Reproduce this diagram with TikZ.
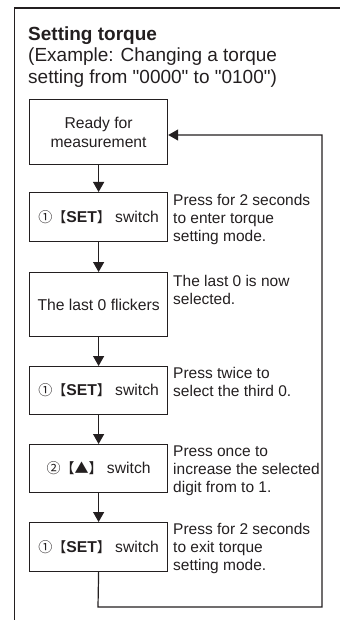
\documentclass[tikz,border=0pt]{standalone}
\usepackage{fontspec}
\setmainfont{Liberation Sans}[Ligatures=TeXOff]
\newfontfamily\cjk{Noto Sans CJK SC}
\newcommand\cjsym[1]{{\fontsize{14}{14}\cjk #1}}
\usetikzlibrary{arrows.meta}
\definecolor{ink}{HTML}{231F20}
\begin{document}
\begin{tikzpicture}[x=1pt,y=-1pt,
  box/.style={draw=ink,line width=1.2pt,minimum width=138pt,inner sep=0pt,anchor=north west,align=center,font=\fontsize{15.7}{19}\selectfont,text=ink},
  note/.style={anchor=north west,inner sep=0pt,align=left,font=\fontsize{15.5}{18}\selectfont,text=ink},
  arr/.style={draw=ink,line width=1.2pt,-{Triangle[length=10pt,width=11pt]}},
  frame/.style={draw=ink,line width=1.5pt}
]
\useasboundingbox (0,0) rectangle (340,620);
\draw[frame] (14.5,620) -- (14.5,8) -- (340,8);
\node[anchor=base west,inner sep=0pt,text=ink,font=\bfseries\fontsize{19}{21}\selectfont] (title) at (28,41) {Setting torque};
\node[anchor=north west,inner sep=0pt,align=left,text=ink,font=\fontsize{19}{22}\selectfont] (sub) at (28,47.2) {(Example: Changing a torque\\setting from "0000" to "0100")};

\node[box,minimum height=65pt] (b1) at (29,99) {Ready for\\measurement};
\node[box,minimum height=49pt] (b2) at (29,192) {\cjsym{①【}\textbf{SET}\cjsym{】} switch};
\node[box,minimum height=64pt] (b3) at (29,272) {The last 0 flickers};
\node[box,minimum height=48pt] (b4) at (29,366) {\cjsym{①【}\textbf{SET}\cjsym{】} switch};
\node[box,minimum height=48pt] (b5) at (29,444) {\cjsym{②【▲】} switch};
\node[box,minimum height=49pt] (b6) at (29,522) {\cjsym{①【}\textbf{SET}\cjsym{】} switch};

\node[note] (n2) at (173,193.6) {Press for 2 seconds\\to enter torque\\setting mode.};
\node[note] (n3) at (173,274.6) {The last 0 is now\\selected.};
\node[note] (n4) at (173,366.6) {Press twice to\\select the third 0.};
\node[note] (n5) at (173,445.6) {Press once to\\increase the selected\\digit from to 1.};
\node[note] (n6) at (173,522.6) {Press for 2 seconds\\to exit torque\\setting mode.};

\draw[arr] (b1) -- (b2);
\draw[arr] (b2) -- (b3);
\draw[arr] (b3) -- (b4);
\draw[arr] (b4) -- (b5);
\draw[arr] (b5) -- (b6);
\coordinate (lb) at (98,607);
\coordinate (rt) at (322,135);
\draw[arr] (b6.south) -- (lb) -| (rt) -- (b1.east |- rt);
\end{tikzpicture}
\end{document}
